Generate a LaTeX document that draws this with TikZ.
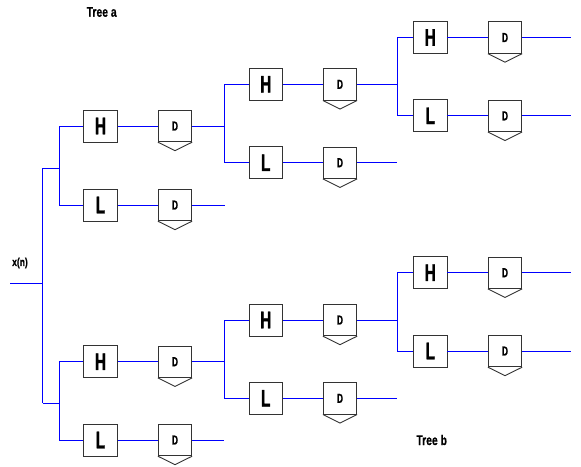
\documentclass[tikz,border=0pt]{standalone}
\usepackage{fontspec}
\newfontfamily\boxfont[FakeStretch=0.64,FakeBold=1.2]{Liberation Sans}
\newfontfamily\lblfont[FakeStretch=0.74,FakeBold=0.6]{Liberation Sans}
\begin{document}
\begin{tikzpicture}[x=1pt,y=-1pt,
  wire/.style={draw=blue, line width=0.9pt},
  blk/.style={draw=black!80, fill=white, line width=0.9pt, rectangle, inner sep=0pt},
  hbox/.style={blk, minimum width=33.3pt, minimum height=32pt, font=\boxfont\bfseries\fontsize{24}{24}\selectfont},
  dbox/.style={blk, minimum width=33.3pt, minimum height=31.5pt, font=\boxfont\bfseries\fontsize{13}{13}\selectfont},
  chev/.style={draw=black!80, line width=0.9pt, line join=miter},
  lbl/.style={font=\lblfont\bfseries\fontsize{14}{14}\selectfont, inner sep=0pt},
  xlbl/.style={font=\lblfont\bfseries\fontsize{11.5}{11.5}\selectfont, inner sep=0pt}]
\useasboundingbox (0,0) rectangle (581,466);

% labels
\node[lbl] (treea) at (101.7,12) {Tree a};
\node[lbl] (treeb) at (431.7,440) {Tree b};
\node[xlbl] (xn) at (20,263) {x(n)};

% ---------- Tree a ----------
\node[hbox] (H1a) at (100.5,126) {H};
\node[dbox] (D1a) at (175,126) {D};
\node[hbox] (L1a) at (100.5,205) {L};
\node[dbox] (D1aL) at (175,205) {D};

\node[hbox] (H2a) at (265.7,84.3) {H};
\node[dbox] (D2a) at (340,84.3) {D};
\node[hbox] (L2a) at (265.7,162.7) {L};
\node[dbox] (D2aL) at (340,162.7) {D};

\node[hbox] (H3a) at (430.3,37.5) {H};
\node[dbox] (D3a) at (505,37.5) {D};
\node[hbox] (L3a) at (430.3,115.8) {L};
\node[dbox] (D3aL) at (505,115.8) {D};

% ---------- Tree b ----------
\node[hbox] (H1b) at (100.5,361.7) {H};
\node[dbox] (D1b) at (175,361.7) {D};
\node[hbox] (L1b) at (100.5,440) {L};
\node[dbox] (D1bL) at (175,440) {D};

\node[hbox] (H2b) at (265.7,320) {H};
\node[dbox] (D2b) at (340,320) {D};
\node[hbox] (L2b) at (265.7,398.3) {L};
\node[dbox] (D2bL) at (340,398.3) {D};

\node[hbox] (H3b) at (430.3,272.7) {H};
\node[dbox] (D3b) at (505,272.7) {D};
\node[hbox] (L3b) at (430.3,351) {L};
\node[dbox] (D3bL) at (505,351) {D};

% chevrons under the D blocks
\foreach \n in {D1a,D1aL,D2a,D2aL,D3a,D3aL,D1b,D1bL,D2b,D2bL,D3b,D3bL}
  \draw[chev] (\n.south west) -- ([yshift=-8.5pt]\n.south) -- (\n.south east);

% coordinates
\coordinate (in) at (10,283);
\coordinate (j0) at (42.7,283);
\coordinate (v0t) at (42.7,168);
\coordinate (v0b) at (42.7,403.3);
\coordinate (a1) at (59.3,168);
\coordinate (b1) at (59.3,403.3);
\coordinate (a2) at (224.3,126);
\coordinate (a2L) at (225,205);
\coordinate (b2) at (224.3,361.7);
\coordinate (b2L) at (224.3,440);
\coordinate (a3) at (397.3,84.3);
\coordinate (a3L) at (397.3,162.7);
\coordinate (b3) at (397.3,320);
\coordinate (b3L) at (397.3,398.3);
\coordinate (oaH) at (570.7,37.5);
\coordinate (oaL) at (570.7,115.8);
\coordinate (obH) at (570.7,272.7);
\coordinate (obL) at (570.7,351);

% wires: input
\draw[wire] (in) -- (j0);
\draw[wire] (v0t) -- (v0b);
\draw[wire] (v0t) -- (a1);
\draw[wire] (v0b) -- (b1);

% tree a
\draw[wire] (H1a.west) -| (a1) |- (L1a.west);
\draw[wire] (H1a) -- (D1a);
\draw[wire] (L1a) -- (D1aL);
\draw[wire] (D1a.east) -- (a2);
\draw[wire] (D1aL.east) -- (a2L);
\draw[wire] (H2a.west) -| (a2) |- (L2a.west);
\draw[wire] (H2a) -- (D2a);
\draw[wire] (L2a) -- (D2aL);
\draw[wire] (D2a.east) -- (a3);
\draw[wire] (D2aL.east) -- (a3L);
\draw[wire] (H3a.west) -| (a3) |- (L3a.west);
\draw[wire] (H3a) -- (D3a);
\draw[wire] (L3a) -- (D3aL);
\draw[wire] (D3a.east) -- (oaH);
\draw[wire] (D3aL.east) -- (oaL);

% tree b
\draw[wire] (H1b.west) -| (b1) |- (L1b.west);
\draw[wire] (H1b) -- (D1b);
\draw[wire] (L1b) -- (D1bL);
\draw[wire] (D1b.east) -- (b2);
\draw[wire] (D1bL.east) -- (b2L);
\draw[wire] (H2b.west) -| (b2) |- (L2b.west);
\draw[wire] (H2b) -- (D2b);
\draw[wire] (L2b) -- (D2bL);
\draw[wire] (D2b.east) -- (b3);
\draw[wire] (D2bL.east) -- (b3L);
\draw[wire] (H3b.west) -| (b3) |- (L3b.west);
\draw[wire] (H3b) -- (D3b);
\draw[wire] (L3b) -- (D3bL);
\draw[wire] (D3b.east) -- (obH);
\draw[wire] (D3bL.east) -- (obL);
\end{tikzpicture}
\end{document}
